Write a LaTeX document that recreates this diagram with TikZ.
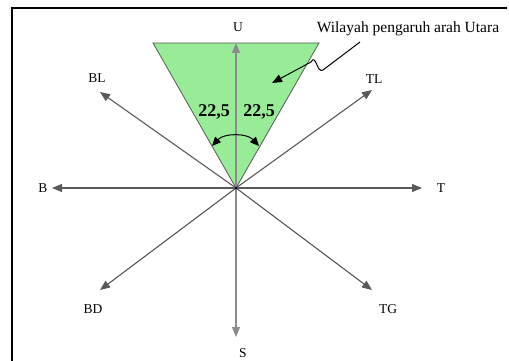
\documentclass[tikz,border=0pt]{standalone}
\usepackage{fontspec}
\setmainfont{Liberation Serif}
\usetikzlibrary{arrows.meta}
\definecolor{zonegreen}{RGB}{152,236,152}
\begin{document}
\begin{tikzpicture}[
    x=1pt, y=-1pt,
    axis/.style={draw=black!65, line width=1.1pt, -{Triangle[length=10pt,width=8pt]}},
    lbl/.style={font=\fontsize{13.5}{15}\selectfont, inner sep=1pt},
    angle/.style={font=\bfseries\fontsize{18}{20}\selectfont, inner sep=0pt}
  ]
  \useasboundingbox (0,0) rectangle (509,361);
  % frame
  \draw[line width=1.5pt] (12,361) -- (12,8) -- (507,8);
  % north zone
  \coordinate (O) at (236,188);
  \coordinate (ZL) at (153,43);
  \coordinate (ZR) at (319,43);
  \fill[zonegreen] (ZL) -- (ZR) -- (O) -- cycle;
  \draw[black!65, line width=0.8pt] (ZL) -- (ZR) -- (O) -- cycle;
  % arrow tips
  \coordinate (tU) at (236,43);
  \coordinate (tS) at (236,337);
  \coordinate (tB) at (52,188);
  \coordinate (tT) at (422,188);
  \coordinate (tBL) at (100,92);
  \coordinate (tTL) at (372,90);
  \coordinate (tBD) at (100,290);
  \coordinate (tTG) at (372,290);
  \draw[axis, draw=black!45] (O) -- (tU);
  \draw[axis, draw=black!45] (O) -- (tS);
  \draw[axis] (O) -- (tB);
  \draw[axis] (O) -- (tT);
  \draw[axis] (O) -- (tBL);
  \draw[axis] (O) -- (tTL);
  \draw[axis] (O) -- (tBD);
  \draw[axis] (O) -- (tTG);
  \fill[blue!40!black] (O) circle (1.5pt);
  % labels
  \node[lbl] (U) at (238,27) {U};
  \node[lbl] (S) at (243,353) {S};
  \node[lbl] (B) at (43,188) {B};
  \node[lbl] (T) at (441,188) {T};
  \node[lbl] (BL) at (97,78) {BL};
  \node[lbl] (TL) at (374,79) {TL};
  \node[lbl] (BD) at (93,309) {BD};
  \node[lbl] (TG) at (388,309) {TG};
  % angles
  \node[angle] (aL) at (214,112) {22,5};
  \node[angle] (aR) at (259,112) {22,5};
  \coordinate (arcL) at (212,146);
  \coordinate (arcR) at (259,146);
  \draw[line width=1pt, {Triangle[length=9pt,width=8pt]}-{Triangle[length=9pt,width=8pt]}]
    (arcL) .. controls (224,133) and (247,133) .. (arcR);
  % note
  \node[lbl, font=\fontsize{15.5}{17}\selectfont] (note) at (408,29) {Wilayah pengaruh arah Utara};
  \coordinate (nS) at (360,42);
  \coordinate (nP) at (272,83);
  \draw[line width=1pt, -{Triangle[length=10pt,width=8pt]}]
    (nS) -- (323,70) .. controls (317,74) and (316,53) .. (311,62) -- (nP);
\end{tikzpicture}
\end{document}
